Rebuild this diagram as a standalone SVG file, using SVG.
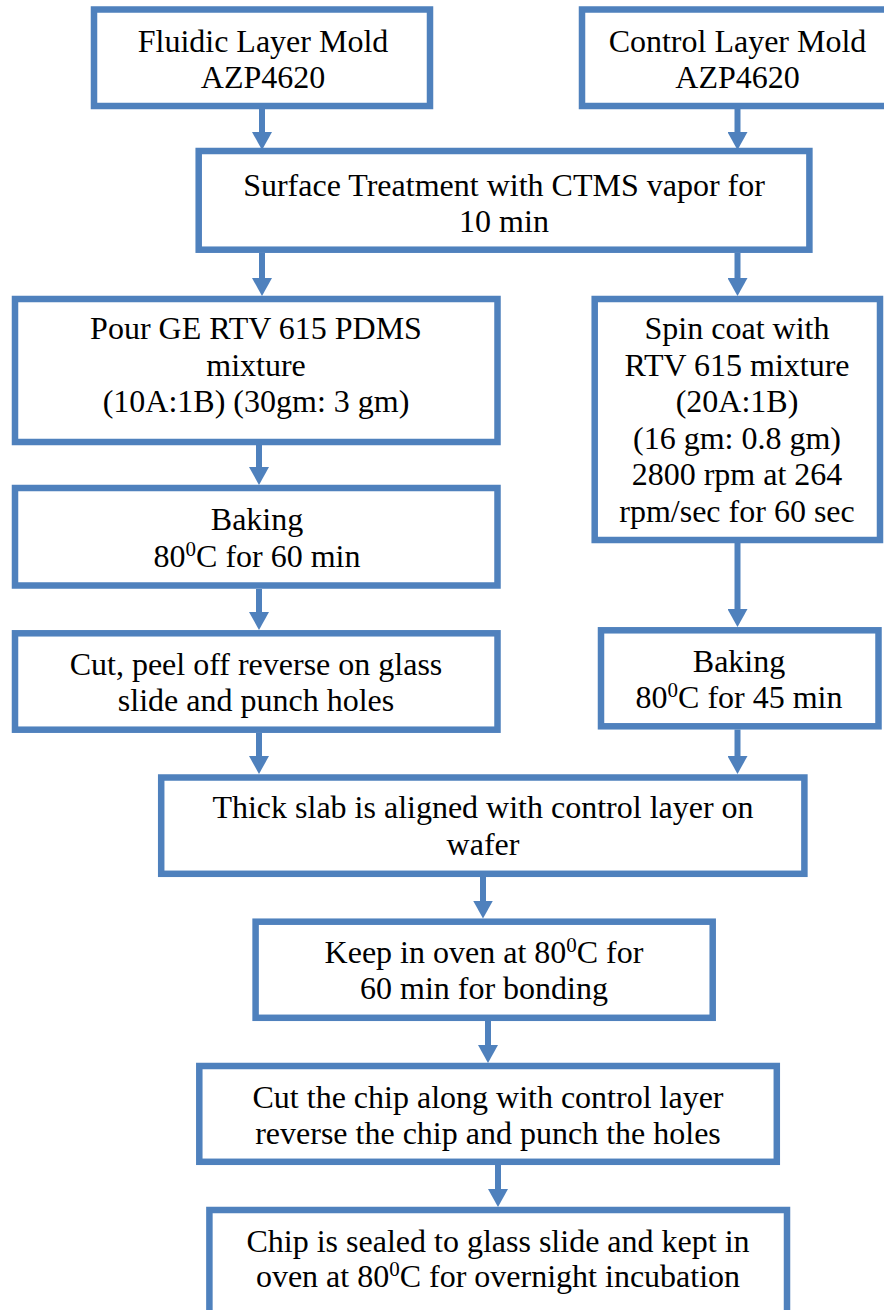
<svg xmlns="http://www.w3.org/2000/svg" width="884" height="1310" viewBox="0 0 884 1310" font-family="'Liberation Serif', 'Times New Roman', serif">
<style>
.box{fill:#ffffff;stroke:#4F81BD;stroke-width:6.5}
.t{font-family:'Liberation Serif','Times New Roman',serif;font-size:32px;fill:#000000;text-anchor:middle}
.sup{font-size:21px}
.conn{stroke:#4F81BD;stroke-width:6;fill:none;marker-end:url(#ah)}
</style>
<defs>
<marker id="ah" markerUnits="userSpaceOnUse" viewBox="0 0 18 20" markerWidth="18" markerHeight="20" refX="1" refY="10" orient="auto">
<path d="M0,0 L18,10 L0,20 Z" fill="#4F81BD"/>
</marker>
</defs>
<rect width="884" height="1310" fill="#ffffff"/>

<g id="connectors">
<line class="conn" x1="262" y1="109" x2="262" y2="133"/>
<line class="conn" x1="737.5" y1="109" x2="737.5" y2="133"/>
<line class="conn" x1="262" y1="253" x2="262" y2="279"/>
<line class="conn" x1="737.5" y1="253" x2="737.5" y2="279"/>
<line class="conn" x1="259" y1="445" x2="259" y2="468"/>
<line class="conn" x1="259" y1="589" x2="259" y2="613"/>
<line class="conn" x1="737.5" y1="543" x2="737.5" y2="610"/>
<line class="conn" x1="259" y1="733" x2="259" y2="757"/>
<line class="conn" x1="737.5" y1="729.5" x2="737.5" y2="757"/>
<line class="conn" x1="483" y1="877" x2="483" y2="901.5"/>
<line class="conn" x1="488" y1="1021" x2="488" y2="1046"/>
<line class="conn" x1="498" y1="1165" x2="498" y2="1190"/>
</g>

<g id="fluidic-mold">
<rect class="box" x="94" y="9.5" width="336" height="96.5"/>
<text class="t" x="263" y="52">Fluidic Layer Mold</text>
<text class="t" x="263" y="88">AZP4620</text>
</g>

<g id="control-mold">
<rect class="box" x="582" y="9.5" width="320" height="96.5"/>
<text class="t" x="737.5" y="52">Control Layer Mold</text>
<text class="t" x="737.5" y="88">AZP4620</text>
</g>

<g id="surface-treatment">
<rect class="box" x="198.7" y="151" width="610.7" height="98.7"/>
<text class="t" x="504" y="195.5">Surface Treatment with CTMS vapor for</text>
<text class="t" x="504" y="231.5">10 min</text>
</g>

<g id="pour-pdms">
<rect class="box" x="15" y="299" width="482.5" height="143"/>
<text class="t" x="256" y="339">Pour GE RTV 615 PDMS</text>
<text class="t" x="256" y="375.5">mixture</text>
<text class="t" x="256" y="411.5">(10A:1B) (30gm: 3 gm)</text>
</g>

<g id="spin-coat">
<rect class="box" x="594.7" y="299" width="285.3" height="241"/>
<text class="t" x="737" y="339">Spin coat with</text>
<text class="t" x="737" y="375.5">RTV 615 mixture</text>
<text class="t" x="737" y="412">(20A:1B)</text>
<text class="t" x="737" y="448.5">(16 gm: 0.8 gm)</text>
<text class="t" x="737" y="485">2800 rpm at 264</text>
<text class="t" x="737" y="521.5">rpm/sec for 60 sec</text>
</g>

<g id="baking-left">
<rect class="box" x="15" y="488" width="482.5" height="97.5"/>
<text class="t" x="257" y="530">Baking</text>
<text class="t" x="257" y="566.5">80<tspan class="sup" dy="-11">0</tspan><tspan dy="11">C for 60 min</tspan></text>
</g>

<g id="cut-peel">
<rect class="box" x="15" y="633.3" width="482.5" height="96.4"/>
<text class="t" x="256" y="675">Cut, peel off reverse on glass</text>
<text class="t" x="256" y="711">slide and punch holes</text>
</g>

<g id="baking-right">
<rect class="box" x="601" y="630.3" width="277.5" height="96"/>
<text class="t" x="739" y="671.7">Baking</text>
<text class="t" x="739" y="708">80<tspan class="sup" dy="-11">0</tspan><tspan dy="11">C for 45 min</tspan></text>
</g>

<g id="align">
<rect class="box" x="161.2" y="777.5" width="643.2" height="96.3"/>
<text class="t" x="483" y="818.3">Thick slab is aligned with control layer on</text>
<text class="t" x="483" y="855">wafer</text>
</g>

<g id="oven-bond">
<rect class="box" x="255.6" y="921.7" width="457.1" height="96.1"/>
<text class="t" x="484" y="963">Keep in oven at 80<tspan class="sup" dy="-11">0</tspan><tspan dy="11">C for</tspan></text>
<text class="t" x="484" y="999">60 min for bonding</text>
</g>

<g id="cut-chip">
<rect class="box" x="199.3" y="1066" width="577.5" height="95.8"/>
<text class="t" x="488" y="1108.3">Cut the chip along with control layer</text>
<text class="t" x="488" y="1144">reverse the chip and punch the holes</text>
</g>

<g id="seal-chip">
<rect class="box" x="209.4" y="1210" width="577.6" height="110"/>
<text class="t" x="498" y="1251.7">Chip is sealed to glass slide and kept in</text>
<text class="t" x="498" y="1287">oven at 80<tspan class="sup" dy="-11">0</tspan><tspan dy="11">C for overnight incubation</tspan></text>
</g>
</svg>
